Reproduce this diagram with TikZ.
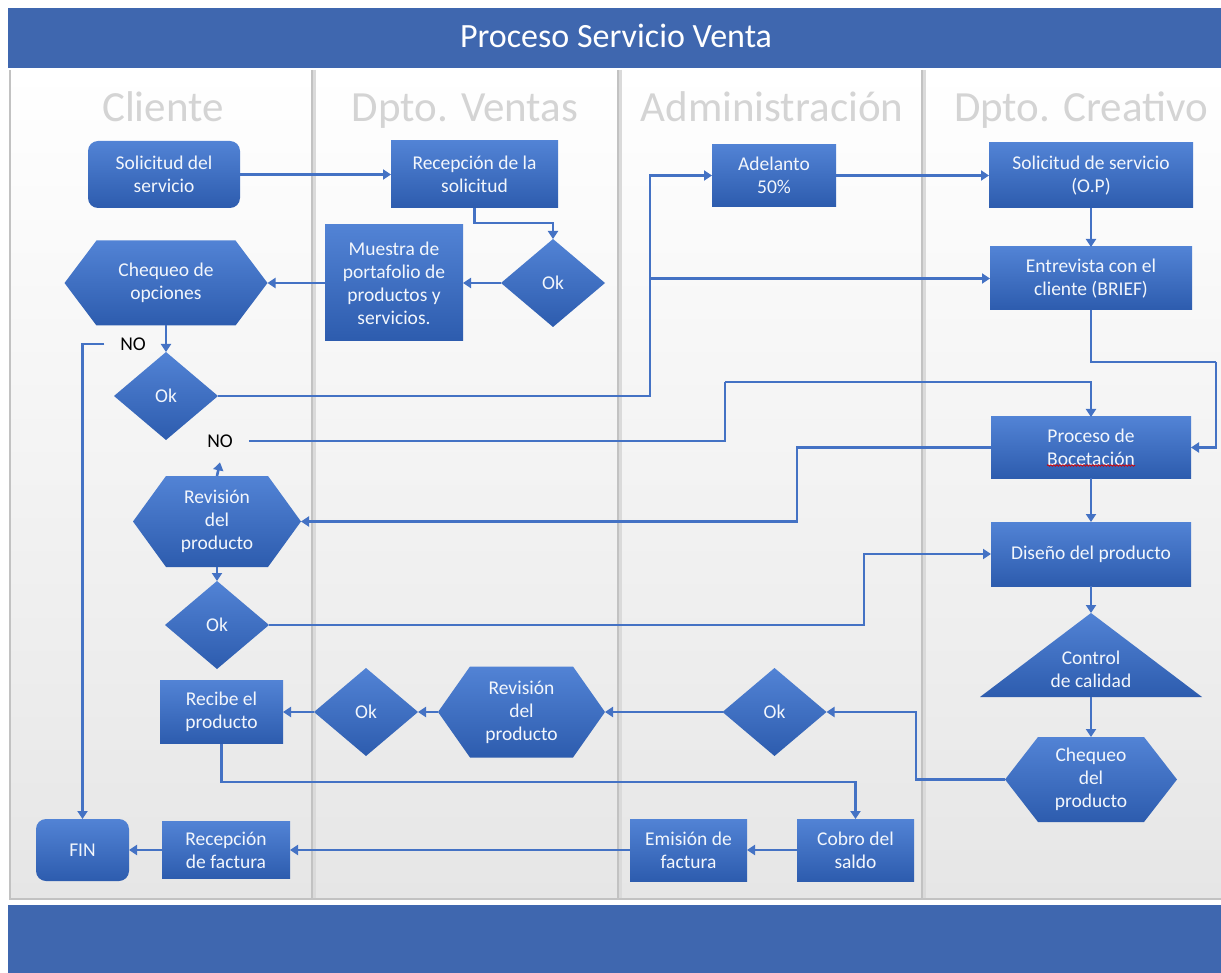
\documentclass[tikz,border=0pt]{standalone}
\usepackage{fontspec}
\setmainfont{Carlito}
\usetikzlibrary{arrows.meta,shapes.geometric,decorations.pathmorphing}
\definecolor{titleblue}{HTML}{3F67AF}
\definecolor{boxtop}{HTML}{5283D5}
\definecolor{boxbot}{HTML}{2D5CAE}
\definecolor{lineblue}{HTML}{4472C4}
\definecolor{hdrgray}{HTML}{D4D4D4}
\definecolor{lanegray}{HTML}{E6E6E6}
\definecolor{sepgray}{HTML}{C2C2C2}
\definecolor{boxtext}{HTML}{F2F6FC}
\pgfdeclarelayer{lanes}
\pgfdeclarelayer{shapes}
\pgfsetlayers{lanes,shapes,main}
\newcommand\bxf{\fontsize{19.5}{23}\selectfont}
\newcommand\hexfill[2]{%
  \shade[boxsh] (#1.west) -- ([xshift=#2]#1.north west) -- ([xshift=-#2]#1.north east)
    -- (#1.east) -- ([xshift=-#2]#1.south east) -- ([xshift=#2]#1.south west) -- cycle;}
\begin{document}
\begin{tikzpicture}[x=1pt,y=-1pt,
  boxsh/.style={top color=boxtop, bottom color=boxbot},
  bx/.style={rectangle, boxsh, draw=none, text=boxtext, font=\bxf, align=center, inner sep=0pt, outer sep=0pt},
  hx/.style={rectangle, draw=none, text=boxtext, font=\bxf, align=center, inner sep=0pt, outer sep=0pt},
  dia/.style={diamond, boxsh, draw=none, text=boxtext, font=\bxf, inner sep=0pt, outer sep=0pt, minimum width=104pt, minimum height=88pt},
  tri/.style={rectangle, draw=none, inner sep=0pt, outer sep=0pt, minimum width=222pt, minimum height=84pt},
  txt/.style={text=boxtext, font=\bxf, align=center, inner sep=0pt},
  nolbl/.style={text=black, font=\bxf, inner xsep=16pt, inner ysep=15pt, outer sep=0pt},
  hdr/.style={text=hdrgray, font=\fontsize{43}{50}\selectfont, anchor=base, inner sep=0pt},
  arr/.style={draw=lineblue, line width=2.6pt, -{Triangle[length=8pt,width=10pt]}},
  ln/.style={draw=lineblue, line width=2.6pt}
]
\useasboundingbox (0,0) rectangle (1221,973);

% ---------- background ----------
\begin{pgfonlayer}{lanes}
  \fill[white] (0,0) rectangle (1221,973);
  \fill[titleblue] (8,8) rectangle (1221,68);
  \shade[top color=white, bottom color=lanegray] (10,70) rectangle (1221,899);
  \draw[sepgray!60, line width=4pt] (314,70) -- (314,899);
  \draw[sepgray!60, line width=4pt] (620,70) -- (620,899);
  \draw[sepgray!60, line width=4pt] (924,70) -- (924,899);
  \draw[sepgray, line width=1.6pt] (312,70) -- (312,899);
  \draw[sepgray, line width=1.6pt] (618,70) -- (618,899);
  \draw[sepgray, line width=1.6pt] (922,70) -- (922,899);
  \draw[sepgray, line width=1.6pt] (10,70) -- (10,899) -- (1221,899);
  \fill[titleblue] (8,905) rectangle (1221,973);
\end{pgfonlayer}

\node[anchor=base, text=white, font=\fontsize{34}{40}\selectfont, inner sep=0pt] (title) at (616,48) {Proceso Servicio Venta};
\node[hdr] (h1) at (163,122) {Cliente};
\node[hdr] (h2) at (465,122) {Dpto. Ventas};
\node[hdr] (h3) at (772,122) {Administración};
\node[hdr] (h4) at (1081,122) {Dpto. Creativo};

% ---------- nodes ----------
\node[bx, rounded corners=10pt, minimum width=152pt, minimum height=67pt] (sol) at (164,174.5) {Solicitud del\\servicio};
\node[bx, minimum width=167pt, minimum height=67pt] (rec) at (474.5,174.5) {Recepción de la\\solicitud};
\node[bx, minimum width=124pt, minimum height=62pt] (adel) at (774,175.5) {Adelanto\\50\%};
\node[bx, minimum width=204pt, minimum height=65pt] (sols) at (1091,175.5) {Solicitud de servicio\\(O.P)};
\node[hx, minimum width=203pt, minimum height=85pt] (cheq) at (166,283) {Chequeo de\\opciones};
\node[bx, minimum width=138pt, minimum height=116pt] (mue) at (394,283) {Muestra de\\portafolio de\\productos y\\servicios.};
\node[dia] (okv) at (553,283) {Ok};
\node[bx, minimum width=202pt, minimum height=63pt] (entr) at (1091,278.5) {Entrevista con el\\cliente (BRIEF)};
\node[dia] (ok1) at (166,396) {Ok};
\node[nolbl] (no1) at (133,344) {NO};
\node[nolbl] (no2) at (220,441) {NO};
\node[bx, minimum width=200pt, minimum height=61pt] (proc) at (1091,447.5) {Proceso de\\Bocetación};
\node[hx, minimum width=168pt, minimum height=91pt] (rev1) at (217,521.5) {Revisión\\del\\producto};
\node[bx, minimum width=200pt, minimum height=64pt] (dis) at (1091,554) {Diseño del producto};
\node[dia] (ok2) at (217,625) {Ok};
\node[tri] (qc) at (1091,655) {};
\node[txt] (qct) at (1091,669) {Control\\de calidad};
\node[bx, minimum width=123pt, minimum height=63pt] (rcb) at (221.5,712) {Recibe el\\producto};
\node[dia] (okv2) at (366,712) {Ok};
\node[hx, minimum width=167pt, minimum height=91pt] (rev2) at (521.5,712) {Revisión\\del\\producto};
\node[dia] (oka) at (774.5,712) {Ok};
\node[hx, minimum width=172pt, minimum height=85pt] (chp) at (1091,779.5) {Chequeo\\del\\producto};
\node[bx, rounded corners=10pt, minimum width=93pt, minimum height=62pt] (fin) at (82.5,850) {FIN};
\node[bx, minimum width=128pt, minimum height=57pt] (rfac) at (226,850) {Recepción\\de factura};
\node[bx, minimum width=117pt, minimum height=62pt] (emi) at (688.5,850) {Emisión de\\factura};
\node[bx, minimum width=117pt, minimum height=62pt] (cob) at (855.5,850) {Cobro del\\saldo};

\begin{pgfonlayer}{shapes}
  \hexfill{cheq}{32pt}
  \hexfill{rev1}{33pt}
  \hexfill{rev2}{32pt}
  \hexfill{chp}{33pt}
  \shade[boxsh] (qc.south west) -- (qc.north) -- (qc.south east) -- cycle;
\end{pgfonlayer}

% spell-check squiggle
\draw[red!85!black, line width=0.7pt, decorate, decoration={snake, amplitude=0.8pt, segment length=3pt}]
  ([xshift=-44pt,yshift=-18pt]proc.center) -- ([xshift=44pt,yshift=-18pt]proc.center);

% ---------- junction coordinates ----------
\coordinate (j1) at (650,278.5);
\coordinate (jr) at (1216,362);
\coordinate (c2) at (725,382);
\coordinate (c3) at (797,480);
\coordinate (c4) at (864,590);
\coordinate (c5) at (916,740);
\coordinate (c6) at (500,782);

% ---------- connectors ----------
\draw[arr] (sol.east) -- (rec.west);
\draw[arr] (rec.south) -- ++(0,15) -| (okv.north);
\draw[arr] (okv.west) -- (mue.east);
\draw[arr] (mue.west) -- (cheq.east);
\draw[arr] (cheq.south) -- (ok1.north);
\draw[arr] (no1.west) -| (fin.north);
\draw[ln] (ok1.east) -| (j1);
\draw[arr] (j1) |- (adel.west);
\draw[arr] (j1) -- (entr.west);
\draw[arr] (adel.east) -- (sols.west);
\draw[arr] (sols.south) -- (entr.north);
\draw[ln] (entr.south) |- (jr);
\draw[arr] (jr) |- (proc.east);
\draw[ln] (no2.east) -| (c2);
\draw[arr] (c2) -| (proc.north);
\draw[ln] (proc.west) -| (c3);
\draw[arr] (c3) |- (rev1.east);
\draw[arr] (rev1.north) -- (no2.south);
\draw[arr] (rev1.south) -- (ok2.north);
\draw[ln] (ok2.east) -| (c4);
\draw[arr] (c4) |- (dis.west);
\draw[arr] (proc.south) -- (dis.north);
\draw[arr] (dis.south) -- (qc.north);
\draw[arr] (qc.south) -- (chp.north);
\draw[ln] (chp.west) -| (c5);
\draw[arr] (c5) |- (oka.east);
\draw[arr] (oka.west) -- (rev2.east);
\draw[arr] (rev2.west) -- (okv2.east);
\draw[arr] (okv2.west) -- (rcb.east);
\draw[ln] (rcb.south) |- (c6);
\draw[arr] (c6) -| (cob.north);
\draw[arr] (cob.west) -- (emi.east);
\draw[arr] (emi.west) -- (rfac.east);
\draw[arr] (rfac.west) -- (fin.east);
\end{tikzpicture}
\end{document}
